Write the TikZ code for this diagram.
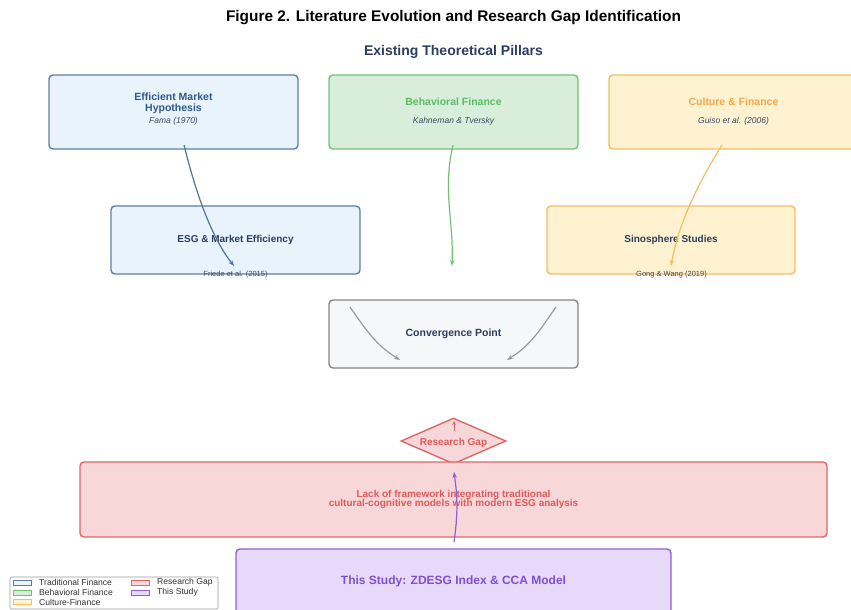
\documentclass[tikz,border=0pt]{standalone}
\usepackage{fontspec}
\setmainfont{Liberation Sans}
\usetikzlibrary{shapes.geometric,arrows.meta}

% palette
\definecolor{tradfill}{HTML}{E8F3FC}
\definecolor{tradline}{HTML}{5B80A8}
\definecolor{tradtext}{HTML}{2F5B8C}
\definecolor{tradarrow}{HTML}{4F75A0}
\definecolor{behfill}{HTML}{D8EEDA}
\definecolor{behline}{HTML}{72C274}
\definecolor{behtext}{HTML}{5DBB63}
\definecolor{culfill}{HTML}{FFF2D0}
\definecolor{culline}{HTML}{F6BE62}
\definecolor{cultext}{HTML}{F4A84A}
\definecolor{navy}{HTML}{2C3E5F}
\definecolor{subtext}{HTML}{3A4A66}
\definecolor{convfill}{HTML}{F6F7F9}
\definecolor{convline}{HTML}{858585}
\definecolor{convarrow}{HTML}{9A9A9A}
\definecolor{gapfill}{HTML}{F8D7DA}
\definecolor{gapfillb}{HTML}{F7D0D3}
\definecolor{gapline}{HTML}{E06666}
\definecolor{gaptext}{HTML}{E05A5A}
\definecolor{studyfill}{HTML}{E8D9FB}
\definecolor{studyline}{HTML}{8C5FD8}
\definecolor{studytext}{HTML}{7F4FD2}
\definecolor{legline}{HTML}{9A9A9A}

\begin{document}
\begin{tikzpicture}[x=1pt,y=1pt,
  box/.style={draw, rounded corners=4pt, line width=1.4pt, inner sep=0pt},
  tradbox/.style={box, fill=tradfill, draw=tradline},
  behbox/.style={box, fill=behfill, draw=behline},
  culbox/.style={box, fill=culfill, draw=culline},
  convbox/.style={box, fill=convfill, draw=convline},
  lackbox/.style={box, fill=gapfillb, fill opacity=0.85, draw=gapline, draw opacity=1},
  studybox/.style={box, fill=studyfill, draw=studyline},
  gapdia/.style={diamond, draw=gapline, fill=gapfill, line width=1.4pt, inner sep=0pt,
    minimum width=105pt, minimum height=46pt},
  boxtitle/.style={font=\fontsize{10.5}{10.5}\selectfont\bfseries, inner sep=0pt, align=center},
  boxsub/.style={font=\fontsize{8.5}{9}\selectfont\itshape, text=subtext, inner sep=0pt},
  cite/.style={font=\fontsize{7.5}{8}\selectfont, text=subtext, inner sep=0pt},
  link/.style={line width=1.2pt, -{Stealth[length=6pt,width=4.5pt]}},
  swatch/.style={draw, line width=0.8pt, minimum width=18pt, minimum height=5pt, inner sep=0pt},
  legtext/.style={font=\fontsize{8.6}{8.6}\selectfont, text=black!80, anchor=west, inner sep=0pt}
]
\useasboundingbox (0,0) rectangle (851,-610);
\fill[white] (0,0) rectangle (851,-610);

% headings
\node[font=\fontsize{15.4}{15.4}\selectfont\bfseries, inner sep=0pt] (title) at (453.5,-18) {Figure 2. Literature Evolution and Research Gap Identification};
\node[font=\fontsize{14}{14}\selectfont\bfseries, text=navy, inner sep=0pt] (pillars) at (453.5,-52) {Existing Theoretical Pillars};

% theoretical pillars
\node[tradbox, minimum width=249pt, minimum height=74pt] (emh) at (173.5,-112) {};
\node[behbox, minimum width=249pt, minimum height=74pt] (beh) at (453.5,-112) {};
\node[culbox, minimum width=249pt, minimum height=74pt] (cul) at (733.5,-112) {};

% derived streams
\node[tradbox, minimum width=249pt, minimum height=68pt] (esg) at (235.5,-240) {};
\node[culbox, minimum width=248pt, minimum height=68pt] (sino) at (671,-240) {};
\node[convbox, minimum width=249pt, minimum height=68pt] (conv) at (453.5,-334) {};

% gap and study
\node[gapdia] (gap) at (453.5,-441) {};
\node[lackbox, minimum width=747pt, minimum height=75pt] (lack) at (453.5,-499.5) {};
\node[studybox, minimum width=435pt, minimum height=68pt] (study) at (453.5,-583) {};

% texts in boxes
\node[boxtitle, text=tradtext] (emhT) at (173.5,-103.5) {Efficient Market\\Hypothesis};
\node[boxsub] (emhS) at (173.5,-121.5) {Fama (1970)};
\node[boxtitle, text=behtext] (behT) at (453.5,-102) {Behavioral Finance};
\node[boxsub] (behS) at (453.5,-121.5) {Kahneman \& Tversky};
\node[boxtitle, text=cultext] (culT) at (733.5,-102) {Culture \& Finance};
\node[boxsub] (culS) at (733.5,-121.5) {Guiso et al. (2006)};

\node[boxtitle, font=\fontsize{10}{10}\selectfont\bfseries, text=navy] (esgT) at (235.5,-240) {ESG \& Market Efficiency};
\node[boxtitle, font=\fontsize{10}{10}\selectfont\bfseries, text=navy] (sinoT) at (671,-240) {Sinosphere Studies};
\node[boxtitle, text=navy] (convT) at (453.5,-333.5) {Convergence Point};
\node[boxtitle, font=\fontsize{10}{10}\selectfont\bfseries, text=gaptext] (gapT) at (453.5,-443) {Research Gap};
\node[boxtitle, font=\fontsize{10}{9.5}\selectfont\bfseries, text=gaptext] (lackT) at (453.5,-499.5) {Lack of framework integrating traditional\\cultural-cognitive models with modern ESG analysis};
\node[boxtitle, font=\fontsize{12}{12}\selectfont\bfseries, text=studytext] (studyT) at (453.5,-581) {This Study: ZDESG Index \& CCA Model};

% connector end points
\coordinate (emhOut) at (184,-145);
\coordinate (esgIn) at (234,-266);
\coordinate (behOut) at (453,-145);
\coordinate (behIn) at (452,-266);
\coordinate (culOut) at (722,-145);
\coordinate (sinoIn) at (671,-266);
\coordinate (convL) at (350,-307);
\coordinate (convLIn) at (400,-360);
\coordinate (convR) at (556,-307);
\coordinate (convRIn) at (507,-360);
\coordinate (gapLow) at (454,-431);
\coordinate (gapTop) at (454,-421);
\coordinate (studyOut) at (454,-542);
\coordinate (lackIn) at (454,-472);

% connectors
\draw[link, draw=tradarrow] (emhOut) to[out=-76,in=128,looseness=0.8] (esgIn);
\draw[link, draw=behline] (behOut) to[out=-103,in=88] (behIn);
\draw[link, draw=culline] (culOut) to[out=-122,in=80,looseness=0.85] (sinoIn);
\draw[link, draw=convarrow] (convL) to[out=-55,in=148] (convLIn);
\draw[link, draw=convarrow] (convR) to[out=-125,in=32] (convRIn);
\draw[line width=1pt, draw=gapline, -{Stealth[length=4pt,width=3.5pt]}] (gapLow) -- (gapTop);
\draw[link, draw=studyline] (studyOut) to[out=82,in=-82] (lackIn);

% citations on the lower borders
\node[cite] (esgC) at (235.5,-274.5) {Friede et al. (2015)};
\node[cite] (sinoC) at (671.5,-274.5) {Gong \& Wang (2019)};

% legend
\node[draw=legline, fill=white, line width=0.6pt, rounded corners=2pt, minimum width=208pt, minimum height=32pt, inner sep=0pt] (legend) at (114,-593) {};
\node[swatch, fill=tradfill, draw=tradline] (sw1) at (22.5,-582.7) {};
\node[swatch, fill=behfill, draw=behline] (sw2) at (22.5,-592.5) {};
\node[swatch, fill=culfill, draw=culline] (sw3) at (22.5,-602.3) {};
\node[swatch, fill=gapfill, draw=gapline] (sw4) at (140,-582.7) {};
\node[swatch, fill=studyfill, draw=studyline] (sw5) at (140,-592.5) {};
\node[legtext] (lt1) at (39,-582.7) {Traditional Finance};
\node[legtext] (lt2) at (39,-592.5) {Behavioral Finance};
\node[legtext] (lt3) at (39,-602.3) {Culture-Finance};
\node[legtext] (lt4) at (157,-582.7) {Research Gap};
\node[legtext] (lt5) at (157,-592.5) {This Study};
\end{tikzpicture}
\end{document}
